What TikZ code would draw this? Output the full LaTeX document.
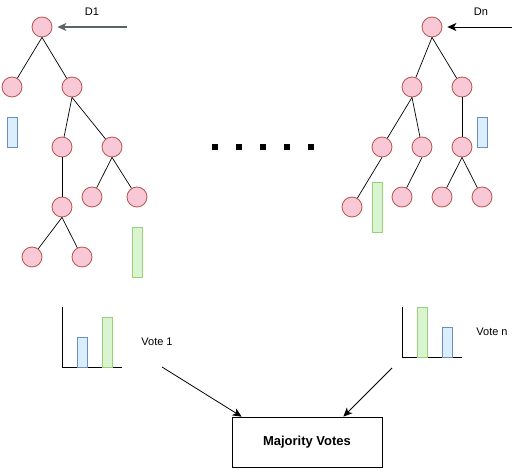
\documentclass[tikz,border=0pt]{standalone}
\usepackage{fontspec}
\setmainfont{Liberation Sans}
\usepackage{tikz}
\usetikzlibrary{shapes,arrows,arrows.meta}
\definecolor{pinkfill}{HTML}{F8C8D6}
\definecolor{pinkline}{HTML}{B85450}
\definecolor{bluefill}{HTML}{DAEEFC}
\definecolor{blueline}{HTML}{6C8EBF}
\definecolor{greenfill}{HTML}{D8F5CF}
\definecolor{greenline}{HTML}{97D077}
\definecolor{arrowgray}{HTML}{5A6466}
\tikzstyle{circ} = [circle, draw=pinkline, fill=pinkfill, minimum size=20pt,
    inner sep=0pt, line width=0.8pt]
\tikzstyle{bluebar} = [rectangle, draw=blueline, fill=bluefill,
    minimum width=10pt, minimum height=30pt, inner sep=0pt, line width=0.8pt]
\tikzstyle{greenbar} = [rectangle, draw=greenline, fill=greenfill,
    minimum width=10pt, minimum height=50pt, inner sep=0pt, line width=0.8pt]
\tikzstyle{edge} = [draw, line width=0.7pt]
\tikzstyle{line} = [draw, line width=0.8pt, -{Stealth[length=9pt,width=8pt,inset=2.5pt]}]
\tikzstyle{label} = [font=\fontsize{11}{13}\selectfont]
\tikzstyle{dot} = [rectangle, fill=black, minimum size=6pt, inner sep=0pt]

\begin{document}
\begin{tikzpicture}[x=1pt, y=-1pt, node distance=60pt]
 \useasboundingbox (0,0) rectangle (520,470);
 % first tree
 \node[circ] (r1) at (42,27) {};
 \node[circ, below of=r1, xshift=-30pt] (a1) {};
 \node[circ, below of=r1, xshift=30pt] (a2) {};
 \node[circ, below of=a2, xshift=-10pt] (a3) {};
 \node[circ, below of=a2, xshift=40pt] (a4) {};
 \node[circ, below of=a4, node distance=50pt, xshift=-20pt] (a5) {};
 \node[circ, below of=a4, node distance=50pt, xshift=25pt] (a6) {};
 \node[circ, below of=a3] (a7) {};
 \node[circ, below of=a7, node distance=50pt, xshift=-30pt] (a8) {};
 \node[circ, below of=a7, node distance=50pt, xshift=20pt] (a9) {};
 \node[bluebar] (c1) at (12,132) {};
 \node[greenbar] (c2) at (137,252) {};

 \path[edge] (r1.south) -- (a1);
 \path[edge] (r1.south) -- (a2);
 \path[edge] (a2.south) -- (a3);
 \path[edge] (a2.south) -- (a4);
 \path[edge] (a4.south) -- (a5);
 \path[edge] (a4.south) -- (a6);
 \path[edge] (a3.south) -- (a7);
 \path[edge] (a7.south) -- (a8);
 \path[edge] (a7.south) -- (a9);

 \coordinate (in1) at (127,27);
 \node[label] (d1) at (92,12) {D1};
 \path[line, arrowgray, line width=1.3pt, shorten >=5pt] (in1) -- (r1);

 % last tree
 \node[circ] (r2) at (432,27) {};
 \node[circ, below of=r2, xshift=-20pt] (b1) {};
 \node[circ, below of=r2, xshift=30pt] (b2) {};
 \node[circ, below of=b1, xshift=-30pt] (b3) {};
 \node[circ, below of=b1, xshift=10pt] (b4) {};
 \node[circ, below of=b2] (b5) {};
 \node[circ, below of=b3, xshift=-30pt] (b6) {};
 \node[circ, below of=b4, node distance=50pt, xshift=-20pt] (b7) {};
 \node[circ, below of=b5, node distance=50pt, xshift=-20pt] (b8) {};
 \node[circ, below of=b5, node distance=50pt, xshift=20pt] (b9) {};
 \node[bluebar] (e1) at (482,132) {};
 \node[greenbar] (e2) at (377,207) {};

 \path[edge] (r2.south) -- (b1);
 \path[edge] (r2.south) -- (b2);
 \path[edge] (b1.south) -- (b3);
 \path[edge] (b1.south) -- (b4);
 \path[edge] (b2.south) -- (b5);
 \path[edge] (b3.south) -- (b6);
 \path[edge] (b4.south) -- (b7);
 \path[edge] (b5.south) -- (b8);
 \path[edge] (b5.south) -- (b9);

 \coordinate (inn) at (512,27);
 \node[label] (dn) at (481,12) {Dn};
 \path[line, shorten >=5pt] (inn) -- (r2);

 % dots between the trees
 \foreach \x in {215,239,263,287,311}
   \node[dot] at (\x,147) {};

 % votes
 \draw[line width=0.7pt] (62,307) -- (62,367) -- (122,367);
 \node[bluebar] (v1b) at (82,352) {};
 \node[greenbar] (v1g) at (107,342) {};
 \node[label] (v1) at (157,342) {Vote 1};

 \draw[line width=0.7pt] (402,307) -- (402,357) -- (462,357);
 \node[greenbar] (vng) at (422,332) {};
 \node[bluebar] (vnb) at (447,342) {};
 \node[label] (vn) at (492,332) {Vote n};

 \node[rectangle, draw, line width=0.7pt, minimum width=150pt, minimum height=50pt,
   font=\fontsize{13}{15}\selectfont\bfseries] (mv) at (307,442) {Majority Votes};

 \coordinate (f1) at (162,367);
 \coordinate (fn) at (392,368);
 \path[line] (f1) -- ([xshift=10pt]mv.north west);
 \path[line] (fn) -- ([xshift=-39pt]mv.north east);
\end{tikzpicture}
\end{document}
